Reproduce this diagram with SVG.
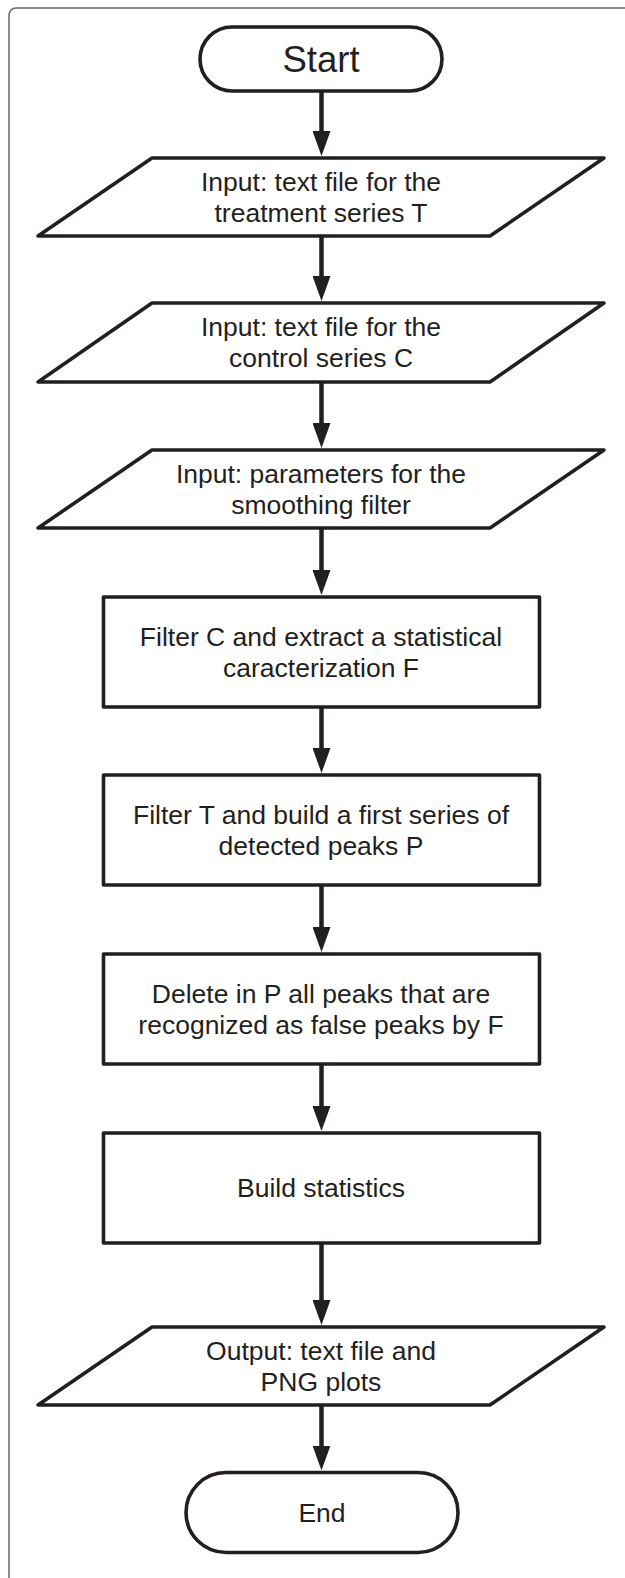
<svg xmlns="http://www.w3.org/2000/svg" width="625" height="1578" viewBox="0 0 625 1578">
<style>
.shape{fill:#ffffff;stroke:#231f20;stroke-width:3.6;stroke-linejoin:round}
.lbl{font-family:"Liberation Sans",Arial,Helvetica,sans-serif;font-size:26.5px;fill:#231f20;text-anchor:middle}
.big{font-size:36.5px}
.conn{stroke:#231f20;stroke-width:4.5;fill:none;marker-end:url(#arr)}
</style>
<defs>
<marker id="arr" viewBox="0 0 25 18" refX="13" refY="9" markerWidth="25" markerHeight="18" markerUnits="userSpaceOnUse" orient="auto">
<path d="M0,0 L25,9 L0,18 Z" fill="#231f20"/>
</marker>
</defs>
<rect id="frame" x="9" y="8" width="640" height="1600" rx="7" ry="7" fill="#ffffff" stroke="#666666" stroke-width="1.5"/>
<g id="connectors">
<line class="conn" x1="321.5" y1="91" x2="321.5" y2="144"/>
<line class="conn" x1="321.5" y1="236" x2="321.5" y2="289"/>
<line class="conn" x1="321.5" y1="382" x2="321.5" y2="436"/>
<line class="conn" x1="321.5" y1="528" x2="321.5" y2="583"/>
<line class="conn" x1="321.5" y1="707" x2="321.5" y2="761"/>
<line class="conn" x1="321.5" y1="885" x2="321.5" y2="940"/>
<line class="conn" x1="321.5" y1="1064" x2="321.5" y2="1119"/>
<line class="conn" x1="321.5" y1="1243" x2="321.5" y2="1313"/>
<line class="conn" x1="321.5" y1="1405" x2="321.5" y2="1458.5"/>
</g>
<g id="start">
<rect class="shape" x="200" y="27" width="242" height="64" rx="32" ry="32"/>
<text class="lbl big" x="321" y="72">Start</text>
</g>
<g id="input-treatment">
<polygon class="shape" points="38,236 152,158 604,158 490,236"/>
<text class="lbl" x="321" y="190.8">Input: text file for the</text>
<text class="lbl" x="321" y="221.8">treatment series T</text>
</g>
<g id="input-control">
<polygon class="shape" points="38,382 152,303 604,303 490,382"/>
<text class="lbl" x="321" y="336.3">Input: text file for the</text>
<text class="lbl" x="321" y="367.3">control series C</text>
</g>
<g id="input-params">
<polygon class="shape" points="38,528 152,450 604,450 490,528"/>
<text class="lbl" x="321" y="482.8">Input: parameters for the</text>
<text class="lbl" x="321" y="513.8">smoothing filter</text>
</g>
<g id="filter-c">
<rect class="shape" x="103.5" y="597" width="436" height="110"/>
<text class="lbl" x="321" y="645.8">Filter C and extract a statistical</text>
<text class="lbl" x="321" y="676.8">caracterization F</text>
</g>
<g id="filter-t">
<rect class="shape" x="103.5" y="775" width="436" height="110"/>
<text class="lbl" x="321" y="823.8">Filter T and build a first series of</text>
<text class="lbl" x="321" y="854.8">detected peaks P</text>
</g>
<g id="delete">
<rect class="shape" x="103.5" y="954" width="436" height="110"/>
<text class="lbl" x="321" y="1002.8">Delete in P all peaks that are</text>
<text class="lbl" x="321" y="1033.8">recognized as false peaks by F</text>
</g>
<g id="stats">
<rect class="shape" x="103.5" y="1133" width="436" height="110"/>
<text class="lbl" x="321" y="1196.5">Build statistics</text>
</g>
<g id="output">
<polygon class="shape" points="38,1405 152,1327 604,1327 490,1405"/>
<text class="lbl" x="321" y="1359.8">Output: text file and</text>
<text class="lbl" x="321" y="1390.8">PNG plots</text>
</g>
<g id="end">
<rect class="shape" x="186" y="1472.5" width="272" height="80" rx="40" ry="40"/>
<text class="lbl" x="322" y="1521.8">End</text>
</g>
</svg>
